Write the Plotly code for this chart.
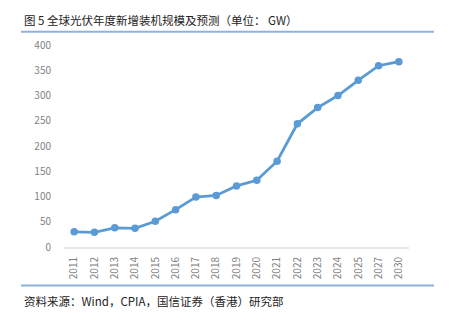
import plotly.graph_objects as go

years = ["2011", "2012", "2013", "2014", "2015", "2016", "2017", "2018", "2019",
         "2020", "2021", "2022", "2023", "2024", "2025", "2027", "2030"]
capacity_gw = [30, 29, 38, 37, 51, 74, 99, 102, 121, 132, 170, 244, 276, 300, 330, 359, 367]
y_ticks = [0, 50, 100, 150, 200, 250, 300, 350, 400]

title_text = "图 5 全球光伏年度新增装机规模及预测（单位： GW）"
source_text = "资料来源：Wind，CPIA，国信证券（香港）研究部"

W, H = 451, 325
ML, MR, MT, MB = 64, 42, 45, 78
PW, PH = W - ML - MR, H - MT - MB


def px_x(px):
    return (px - ML) / PW


def px_y(py):
    return (H - MB - py) / PH


fig = go.Figure()
fig.add_trace(go.Scatter(
    x=years, y=capacity_gw, mode="lines+markers",
    line=dict(color="#5B9BD5", width=2.8),
    marker=dict(color="#5B9BD5", size=7.5),
    hoverinfo="x+y", showlegend=False,
))

font_family = "Noto Sans CJK SC, Noto Sans, sans-serif"

fig.update_layout(
    width=W, height=H,
    margin=dict(l=ML, r=MR, t=MT, b=MB, pad=0),
    paper_bgcolor="white", plot_bgcolor="white",
    font=dict(family=font_family, color="#595959"),
    xaxis=dict(
        type="category", range=[-0.5, len(years) - 0.5],
        showgrid=False, zeroline=False,
        showline=True, linecolor="#E6E6E6", linewidth=2,
        ticks="", tickangle=-90, ticklabelstandoff=4,
        tickfont=dict(size=10, color="#7F7F7F"),
    ),
    yaxis=dict(
        range=[0, 400], tickvals=y_ticks, showgrid=False, zeroline=False,
        showline=False, ticks="", ticklabelstandoff=12,
        tickfont=dict(size=10, color="#7F7F7F"),
    ),
    shapes=[
        dict(type="line", xref="paper", yref="paper",
             x0=px_x(21), x1=px_x(434), y0=px_y(31.8), y1=px_y(31.8),
             line=dict(color="#8DB3DA", width=2)),
        dict(type="line", xref="paper", yref="paper",
             x0=px_x(21), x1=px_x(434), y0=px_y(285.5), y1=px_y(285.5),
             line=dict(color="#8DB3DA", width=2)),
    ],
    annotations=[
        dict(text=title_text, xref="paper", yref="paper",
             x=px_x(22), y=px_y(19.5), xanchor="left", yanchor="middle",
             showarrow=False, font=dict(size=11.5, color="#222222", family=font_family)),
        dict(text=source_text, xref="paper", yref="paper",
             x=px_x(22), y=px_y(301), xanchor="left", yanchor="middle",
             showarrow=False, font=dict(size=11.5, color="#222222", family=font_family)),
    ],
)

fig.write_html("out.html")
